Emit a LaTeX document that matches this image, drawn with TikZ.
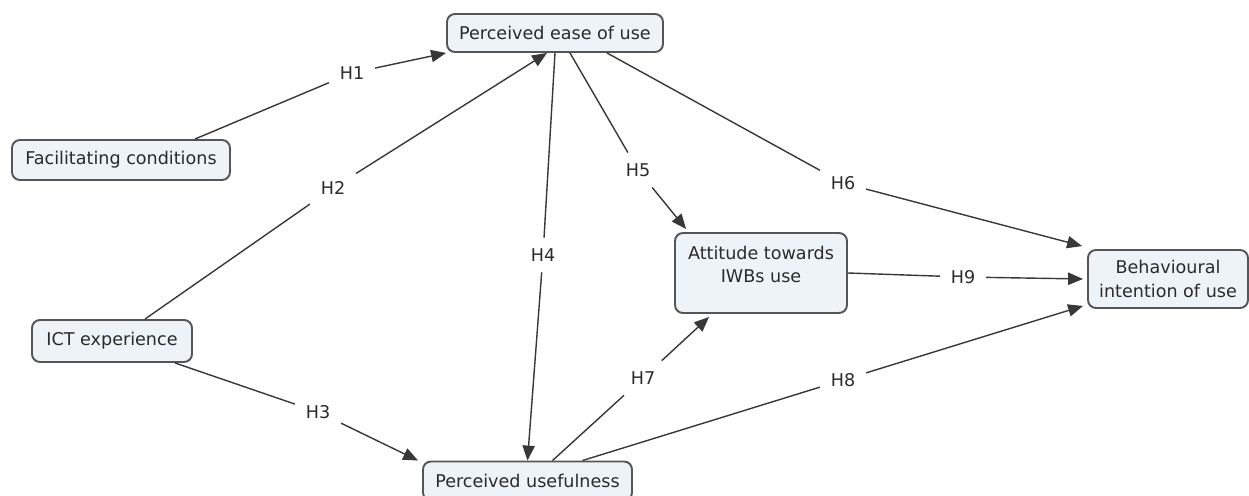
\documentclass[tikz,border=0pt]{standalone}
\usepackage{fontspec}
\setmainfont{DejaVu Sans}
\usetikzlibrary{arrows.meta,calc}
\definecolor{boxfill}{HTML}{EDF3F6}
\definecolor{boxline}{HTML}{555555}
\definecolor{ink}{HTML}{2B2B2B}
\definecolor{wire}{HTML}{383838}
\tikzset{
  concept/.style={draw=boxline, line width=1.1pt, fill=boxfill, rounded corners=4.5pt,
    text=ink, font=\fontsize{10}{14}\selectfont, align=center, inner sep=0pt},
  wire/.style={draw=wire, line width=0.8pt},
  conn/.style={wire, -{Triangle[length=8.5pt,width=7pt]}},
  hyp/.style={text=ink, font=\fontsize{10}{12}\selectfont, inner sep=6pt}
}
\begin{document}
\begin{tikzpicture}[x=0.02cm, y=-0.02cm]
  \useasboundingbox (0,0) rectangle (1249,496);

  % concepts
  \node[concept, minimum width=4.32cm, minimum height=0.76cm] (peou) at (555,33) {Perceived ease of use};
  \node[concept, minimum width=4.36cm, minimum height=0.8cm] (fc) at (121,160) {Facilitating conditions};
  \node[concept, minimum width=3.2cm, minimum height=0.84cm] (ict) at (112,341) {ICT experience};
  \node[concept, minimum width=3.44cm, minimum height=1.6cm] (att) at (761,273) {};
  \node[text=ink, font=\fontsize{10}{13}\selectfont, align=center, anchor=north] (atttxt)
    at ($(att.north)+(0,8)$) {Attitude towards\\IWBs use};
  \node[concept, minimum width=3.2cm, minimum height=1.16cm] (bi) at (1168,279) {Behavioural\\intention of use};
  \node[concept, minimum width=4.18cm, minimum height=0.78cm] (pu) at (527.5,481) {Perceived usefulness};

  % hypothesis labels (linking phrases)
  \node[hyp] (h1) at (352,73) {H1};
  \node[hyp] (h2) at (333,188) {H2};
  \node[hyp] (h3) at (318,412) {H3};
  \node[hyp] (h4) at (543,255) {H4};
  \node[hyp] (h5) at (638,170) {H5};
  \node[hyp] (h6) at (843,183) {H6};
  \node[hyp] (h7) at (643,378) {H7};
  \node[hyp] (h8) at (843,380) {H8};
  \node[hyp] (h9) at (963,277) {H9};

  % hypotheses: concept -- label -> concept
  \draw[wire] ($(fc.north)+(74,0)$) -- (h1);
  \draw[conn] (h1) -- (peou.south west);
  \draw[wire] ($(ict.north)+(33,0)$) -- (h2);
  \draw[conn] (h2) -- ($(peou.south)+(-8,0)$);
  \draw[wire] ($(ict.south)+(63,0)$) -- (h3);
  \draw[conn] (h3) -- ($(pu.north west)+(-4,0)$);
  \draw[wire] (peou.south) -- (h4);
  \draw[conn] (h4) -- (pu.north);
  \draw[wire] ($(peou.south)+(15,0)$) -- (h5);
  \draw[conn] (h5) -- ($(att.north west)+(12,-3)$);
  \draw[wire] ($(peou.south)+(52,0)$) -- (h6);
  \draw[conn] (h6) -- ($(bi.north west)+(-5,-3)$);
  \draw[wire] ($(pu.north)+(25,0)$) -- (h7);
  \draw[conn] (h7) -- ($(att.south west)+(35,3)$);
  \draw[wire] ($(pu.north)+(55,0)$) -- (h8);
  \draw[conn] (h8) -- ($(bi.south west)+(-4,-3)$);
  \draw[wire] (att.east) -- (h9);
  \draw[conn] (h9) -- ($(bi.west)+(-4,0)$);
\end{tikzpicture}
\end{document}
